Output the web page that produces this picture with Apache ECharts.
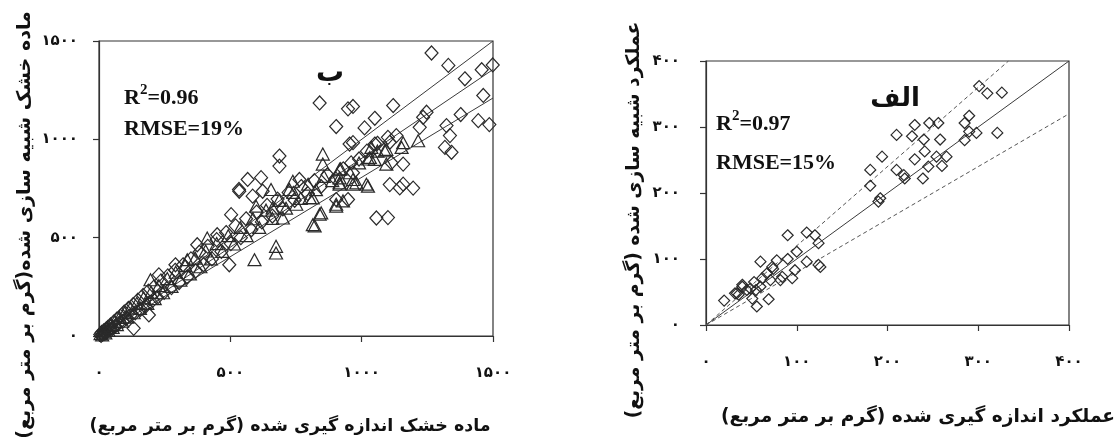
<!DOCTYPE html>
<html>
<head>
<meta charset="utf-8">
<script src="https://cdn.jsdelivr.net/npm/echarts@6/dist/echarts.min.js"></script>
<style>
html,body{margin:0;padding:0;background:#fff;}
#c{width:1117px;height:442px;}
</style>
</head>
<body>
<div id="c"></div>
<script>
// ---------- DATA ----------
const leftTickValues = [0, 500, 1000, 1500];
const leftTickLabels = ['۰', '۵۰۰', '۱۰۰۰', '۱۵۰۰'];
const rightTickValues = [0, 100, 200, 300, 400];
const rightTickLabels = ['۰', '۱۰۰', '۲۰۰', '۳۰۰', '۴۰۰'];

// Left panel (ب): dry matter, measured (x) vs simulated (y), g/m2
const leftDiamonds = [
  [1266,1439],[1330,1376],[1393,1308],[1457,1354],[1499,1378],[1463,1223],[1377,1126],[1444,1095],
  [1486,1075],[1323,1070],[1336,1019],[1317,959],[1342,934],[840,1185],[948,1155],[967,1167],
  [1120,1172],[903,1065],[1011,1058],[1050,1107],[954,976],[1247,1138],[1234,1112],[1221,1061],
  [1132,1019],[1158,874],[1158,772],[1196,752],[1100,602],[1050,976],[1107,985],
  [687,915],[687,864],[566,796],[617,805],[534,736],[585,711],[623,736],[503,617],[496,362],
  [763,796],[948,694],[967,983],[1107,770],[1145,753],[1056,600],[903,694],[967,830],[1113,881],
  [190,107],[132,39],[533,745],[228,311],[291,362],[374,464],[450,515],
  [5,8],[8,3],[10,18],[14,9],[18,26],[22,14],[26,34],[30,22],[34,44],[38,30],[44,56],[50,38],
  [56,70],[62,50],[68,86],[74,62],[82,100],[90,74],[96,122],[104,90],[112,140],[120,104],
  [130,160],[138,118],[148,182],[158,136],[168,206],[176,150],[188,228],[198,172],[210,250],
  [222,196],[236,280],[248,222],[262,306],[276,246],[290,334],[305,272],[320,362],[336,300],
  [350,392],[368,330],[382,426],[398,362],[414,456],[430,392],[448,490],[466,430],[484,526],
  [502,470],[520,560],[540,500],[560,596],[580,540],[600,630],[620,580],[640,664],[660,610],
  [680,696],[700,646],[722,730],[745,690],[770,760],[795,724],[820,790],[845,760],[870,820],
  [900,800],[930,850],[960,880],[990,900],[1020,940],[1060,980],[1100,1010]
];
const leftTriangles = [
  [852,925],[852,874],[1215,993],[1152,959],[1037,959],[1094,874],[1018,772],[967,772],[916,772],
  [916,848],[821,560],[840,619],[903,670],[929,687],[751,670],[802,704],[1031,908],[1088,942],
  [592,388],[674,456],[674,422],[598,660],[655,745],[725,745],[738,787],[814,702],[846,626],
  [814,566],[661,651],[700,600],[916,779],[967,796],[1024,762],[903,660],[196,286],[336,388],
  [412,498],[1094,949],[1158,983],[1050,898],[980,779],[916,804],
  [6,12],[12,6],[18,24],[24,16],[30,40],[36,28],[44,54],[52,44],[60,74],[68,58],[78,94],[88,76],
  [98,118],[108,96],[120,142],[132,118],[144,166],[156,140],[170,194],[184,166],[198,222],
  [212,190],[228,256],[244,220],[260,292],[276,252],[292,324],[310,284],[328,358],[346,316],
  [366,396],[386,352],[406,432],[426,392],[448,470],[470,430],[492,510],[514,468],[538,552],
  [562,510],[586,596],[610,552],[636,640],[660,598],[686,690],[712,650],[740,730],[768,700],
  [796,772],[826,744],[856,812],[888,790],[920,850],[955,830],[990,880],[1025,900],[1060,940]
];
const leftLineUpper = [[0,0],[1500,1500]];
const leftLineMiddle = [[0,0],[1500,1355]];
const leftLineLower = [[0,0],[1500,1210]];

// Right panel (الف): yield, measured (x) vs simulated (y), g/m2
const rightDiamonds = [
  [301,362],[310,351],[326,352],[290,317],[285,306],[290,293],[298,291],[285,280],[321,291],
  [210,288],[230,303],[227,286],[246,306],[256,306],[240,281],[258,281],[241,263],[230,251],
  [254,255],[265,255],[245,240],[260,241],[239,222],[194,255],[181,235],[181,211],[210,235],
  [218,227],[219,222],[192,192],[190,187],[90,136],[111,140],[120,136],[124,124],[100,111],
  [90,100],[111,96],[98,83],[124,91],[126,88],[95,71],[84,73],[78,98],[73,88],[60,96],
  [40,61],[32,48],[20,37],[51,40],[56,28],[69,39],[53,65],[62,71],[67,78],[45,53],[55,53],
  [71,68],[49,55],[60,58],[36,46],[82,68],[74,85],[34,48],[40,58]
];
const rightLineOne = [[0,0],[400,400]];
const rightLineUp = [[0,0],[333.3,400]];
const rightLineDown = [[0,0],[400,320]];

// ---------- CHART ----------
const RLM = '\u200F';
const faFont = 'DejaVu Sans';
const ink = '#2a2a2a';

function tickFormatter(values, labels) {
  return function (v) {
    const i = values.indexOf(v);
    return i >= 0 ? labels[i] : '';
  };
}

function makeAxis(gridIndex, max, interval, vals, labs, margin) {
  return {
    gridIndex, type: 'value', min: 0, max, interval,
    axisLine: { show: true, onZero: false, lineStyle: { color: '#333', width: 1.2 } },
    axisTick: { show: true, length: 6, lineStyle: { color: '#333', width: 1.2 } },
    splitLine: { show: false },
    axisLabel: {
      margin, showMinLabel: true, showMaxLabel: true,
      formatter: tickFormatter(vals, labs),
      fontFamily: faFont, fontWeight: 'bold', fontSize: 15, color: '#111'
    }
  };
}

function scatter(data, xi, symbol, size) {
  return {
    type: 'scatter', xAxisIndex: xi, yAxisIndex: xi, data, symbol, symbolSize: size,
    itemStyle: { color: 'rgba(255,255,255,0)', borderColor: ink, borderWidth: 1.2, opacity: 1 },
    emphasis: { disabled: true }, z: 3
  };
}
function line(data, xi, dashed) {
  return {
    type: 'line', xAxisIndex: xi, yAxisIndex: xi, data, showSymbol: false, symbol: 'none',
    lineStyle: { color: dashed ? '#555' : '#3a3a3a', width: 1, type: dashed ? [4, 3] : 'solid' },
    emphasis: { disabled: true }, z: 2
  };
}

function txt(x, y, text, size, rot) {
  return {
    type: 'text', x, y, rotation: rot || 0,
    style: {
      text, fontSize: size, fontFamily: faFont, fontWeight: 'bold',
      fill: '#111', textAlign: 'center', textVerticalAlign: 'middle',
      align: 'center', verticalAlign: 'middle'
    }
  };
}
function rsq(x, y, value) {
  return {
    type: 'text', x, y,
    style: {
      text: '{a|R}{s|2}{a|=' + value + '}',
      fill: '#111', textAlign: 'left', textVerticalAlign: 'middle', align: 'left', verticalAlign: 'middle',
      rich: {
        a: { fontFamily: 'Liberation Serif', fontWeight: 'bold', fontSize: 22, fill: '#111', verticalAlign: 'bottom', lineHeight: 26 },
        s: { fontFamily: 'Liberation Serif', fontWeight: 'bold', fontSize: 15, fill: '#111', verticalAlign: 'top', lineHeight: 26 }
      }
    }
  };
}
function plain(x, y, text) {
  return {
    type: 'text', x, y,
    style: {
      text, fontFamily: 'Liberation Serif', fontWeight: 'bold', fontSize: 22, fill: '#111',
      textAlign: 'left', textVerticalAlign: 'middle', align: 'left', verticalAlign: 'middle'
    }
  };
}

const option = {
  animation: false,
  backgroundColor: '#fff',
  grid: [
    { left: 99, top: 41, width: 394, height: 295, show: true, borderColor: '#333', borderWidth: 1.2, backgroundColor: 'transparent' },
    { left: 706, top: 61, width: 363, height: 264, show: true, borderColor: '#333', borderWidth: 1.2, backgroundColor: 'transparent' }
  ],
  xAxis: [
    makeAxis(0, 1500, 500, leftTickValues, leftTickLabels, 30),
    makeAxis(1, 400, 100, rightTickValues, rightTickLabels, 30)
  ],
  yAxis: [
    makeAxis(0, 1500, 500, leftTickValues, leftTickLabels, 21),
    makeAxis(1, 400, 100, rightTickValues, rightTickLabels, 26)
  ],
  series: [
    line(leftLineUpper, 0, false),
    line(leftLineMiddle, 0, false),
    line(leftLineLower, 0, false),
    scatter(leftDiamonds, 0, 'diamond', [13, 14]),
    scatter(leftTriangles, 0, 'triangle', [13, 12]),
    line(rightLineOne, 1, false),
    line(rightLineUp, 1, true),
    line(rightLineDown, 1, true),
    scatter(rightDiamonds, 1, 'diamond', [11, 11])
  ],
  graphic: [
    txt(25, 225, 'ماده خشک شبیه سازی شده(گرم بر متر مربع)' + RLM, 19, Math.PI / 2),
    txt(290, 426, 'ماده خشک اندازه گیری شده (گرم بر متر مربع)' + RLM, 17.5, 0),
    txt(634, 220, 'عملکرد شبیه سازی شده (گرم بر متر مربع)' + RLM, 18.8, Math.PI / 2),
    txt(918, 417, 'عملکرد اندازه گیری شده (گرم بر متر مربع)' + RLM, 18.6, 0),
    txt(330, 74, 'ب', 28, 0),
    txt(895, 99, 'الف', 26, 0),
    rsq(124, 96, '0.96'),
    plain(124, 129, 'RMSE=19%'),
    rsq(716, 122, '0.97'),
    plain(716, 163, 'RMSE=15%')
  ]
};

const chart = echarts.init(document.getElementById('c'), null, { renderer: 'canvas' });
chart.setOption(option);
</script>
</body>
</html>
